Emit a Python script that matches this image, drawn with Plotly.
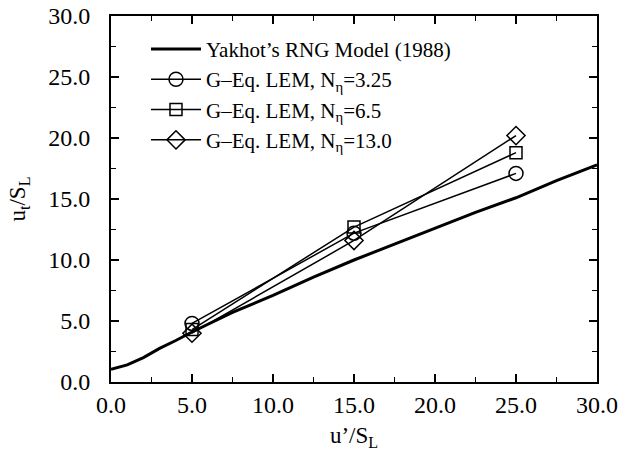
import plotly.graph_objects as go

# Yakhot's RNG model curve
yak_x = [0, 1, 2, 3, 4, 5, 7.5, 10, 12.5, 15, 17.5, 20, 22.5, 25, 27.5, 30]
yak_y = [1.05, 1.4, 2.0, 2.75, 3.4, 4.1, 5.7, 7.1, 8.6, 10.0, 11.3, 12.6, 13.9, 15.1, 16.5, 17.8]

u_prime = [5.0, 15.0, 25.0]
lem_325 = [4.8, 12.2, 17.1]
lem_65 = [4.3, 12.7, 18.8]
lem_13 = [4.0, 11.6, 20.2]

x_ticks = [0, 5, 10, 15, 20, 25, 30]
y_ticks = [0, 5, 10, 15, 20, 25, 30]

FONT = "Liberation Serif, Times New Roman, serif"

fig = go.Figure()
fig.add_trace(go.Scatter(x=yak_x, y=yak_y, mode="lines",
                         line=dict(color="black", width=3),
                         name="Yakhot’s RNG Model (1988)"))
sym = [("circle-open", lem_325, "G–Eq. LEM, N<sub>η</sub>=3.25", 14),
       ("square-open", lem_65, "G–Eq. LEM, N<sub>η</sub>=6.5", 12),
       ("diamond-open", lem_13, "G–Eq. LEM, N<sub>η</sub>=13.0", 14)]
for s, ys, nm, sz in sym:
    fig.add_trace(go.Scatter(x=u_prime, y=ys, mode="lines+markers",
                             line=dict(color="black", width=1.5),
                             marker=dict(symbol=s, size=sz, color="black",
                                         line=dict(width=1.5, color="black")),
                             name=nm))

axis_common = dict(showline=True, linecolor="black", linewidth=2, mirror="ticks",
                   ticks="inside", ticklen=8, tickwidth=1.5, tickcolor="black",
                   showgrid=False, zeroline=False, automargin=False,
                   tickfont=dict(family=FONT, size=24, color="black"),
                   minor=dict(ticks="inside", ticklen=5, tickwidth=1.2, tickcolor="black", dtick=2.5))

fig.update_xaxes(range=[0, 30], tickvals=x_ticks,
                 ticktext=[f"{v:.1f}" for v in x_ticks],
                 title=dict(text="u’/S<sub>L</sub>", font=dict(family=FONT, size=23, color="black"), standoff=10),
                 **axis_common)
fig.update_yaxes(range=[0, 30], tickvals=y_ticks,
                 ticktext=[f"{v:.1f}" for v in y_ticks],
                 ticklabelstandoff=14,
                 title=dict(text="u<sub>t</sub>/S<sub>L</sub>", font=dict(family=FONT, size=23, color="black"), standoff=16),
                 **axis_common)

fig.update_layout(
    width=632, height=457,
    margin=dict(l=111, r=35, t=16, b=75),
    paper_bgcolor="white", plot_bgcolor="white",
    font=dict(family=FONT, color="black"),
    showlegend=True,
    legend=dict(x=0.072, y=0.965, xanchor="left", yanchor="top",
                bgcolor="rgba(0,0,0,0)", borderwidth=0,
                font=dict(family=FONT, size=21, color="black"),
                itemwidth=50, tracegroupgap=0),
)

# remove the page's default body margin so the figure sits at the window's corner
fig.write_html("out.html", config={"displayModeBar": False},
               post_script="document.body.style.margin='0';")
